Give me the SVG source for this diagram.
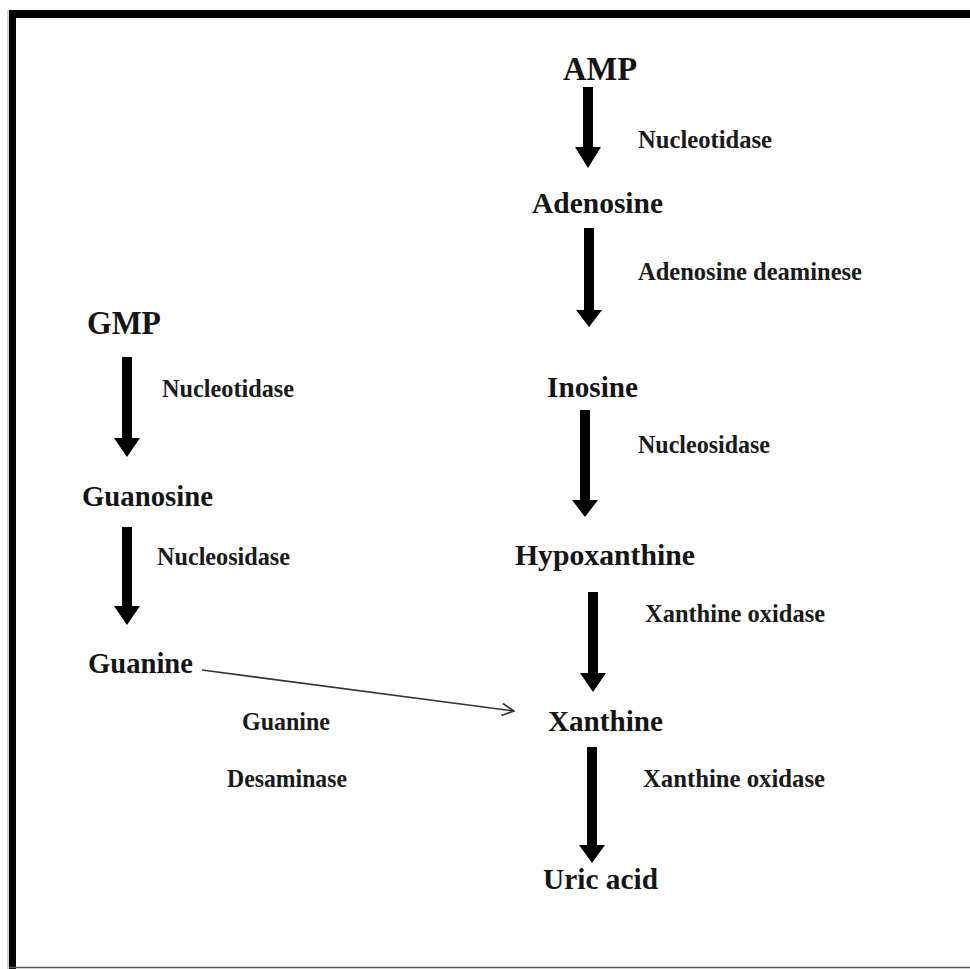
<svg xmlns="http://www.w3.org/2000/svg" width="970" height="969" viewBox="0 0 970 969">
<style>
.node{font-family:"Liberation Serif","Times New Roman",serif;font-weight:bold;font-size:30px;fill:#141414}
.big{font-size:34px}
.lbl{font-family:"Liberation Serif","Times New Roman",serif;font-weight:bold;font-size:26px;fill:#1a1a1a}
.blk{fill:#000}
.thin{stroke:#333;stroke-width:1.6;fill:none}
</style>
<defs>
<marker id="open" viewBox="0 0 14 14" refX="13" refY="7" markerWidth="14" markerHeight="14" markerUnits="userSpaceOnUse" orient="auto">
<path d="M1,1 L13,7 L1,13" fill="none" stroke="#333" stroke-width="1.6"/>
</marker>
</defs>
<rect width="970" height="969" fill="#fff"/>
<g id="frame">
<rect x="9" y="10" width="961" height="8" fill="#000"/>
<rect x="9" y="10" width="7" height="959" fill="#000"/>
<line x1="8" y1="10" x2="8" y2="969" stroke="#aaa" stroke-width="1"/>
<line x1="9" y1="967.5" x2="970" y2="967.5" stroke="#555" stroke-width="1.5"/>
</g>
<g id="connectors">
<polygon class="blk" points="583,87 593,87 593,147 601,147 588,168 575,147 583,147"/>
<polygon class="blk" points="584,228 594,228 594,310 602,310 589,327 576,310 584,310"/>
<polygon class="blk" points="580,410 590,410 590,500 598,500 585,517 572,500 580,500"/>
<polygon class="blk" points="588,592 598,592 598,673 606,673 593,692 580,673 588,673"/>
<polygon class="blk" points="587,747 597,747 597,845 605,845 592,863 579,845 587,845"/>
<polygon class="blk" points="122,357 132,357 132,438 140,438 127,457 114,438 122,438"/>
<polygon class="blk" points="122,527 132,527 132,606 140,606 127,625 114,606 122,606"/>
<line class="thin" x1="202" y1="670" x2="514" y2="711" marker-end="url(#open)"/>
<text class="lbl" x="638" y="148" textLength="134" lengthAdjust="spacingAndGlyphs">Nucleotidase</text>
<text class="lbl" x="638" y="280" textLength="224" lengthAdjust="spacingAndGlyphs">Adenosine deaminese</text>
<text class="lbl" x="638" y="453" textLength="132" lengthAdjust="spacingAndGlyphs">Nucleosidase</text>
<text class="lbl" x="645" y="622" textLength="180" lengthAdjust="spacingAndGlyphs">Xanthine oxidase</text>
<text class="lbl" x="643" y="787" textLength="182" lengthAdjust="spacingAndGlyphs">Xanthine oxidase</text>
<text class="lbl" x="162" y="397" textLength="132" lengthAdjust="spacingAndGlyphs">Nucleotidase</text>
<text class="lbl" x="157" y="565" textLength="133" lengthAdjust="spacingAndGlyphs">Nucleosidase</text>
<text class="lbl" x="242" y="730" textLength="88" lengthAdjust="spacingAndGlyphs">Guanine</text>
<text class="lbl" x="227" y="787" textLength="120" lengthAdjust="spacingAndGlyphs">Desaminase</text>
</g>
<g id="amp"><text class="node big" x="563" y="80" textLength="74" lengthAdjust="spacingAndGlyphs">AMP</text></g>
<g id="adenosine"><text class="node" x="532" y="213" textLength="131" lengthAdjust="spacingAndGlyphs">Adenosine</text></g>
<g id="inosine"><text class="node" x="547" y="397" textLength="91" lengthAdjust="spacingAndGlyphs">Inosine</text></g>
<g id="hypoxanthine"><text class="node" x="515" y="565" textLength="180" lengthAdjust="spacingAndGlyphs">Hypoxanthine</text></g>
<g id="xanthine"><text class="node" x="548" y="731" textLength="115" lengthAdjust="spacingAndGlyphs">Xanthine</text></g>
<g id="uric-acid"><text class="node" x="543" y="889" textLength="115" lengthAdjust="spacingAndGlyphs">Uric acid</text></g>
<g id="gmp"><text class="node big" x="87" y="334" textLength="74" lengthAdjust="spacingAndGlyphs">GMP</text></g>
<g id="guanosine"><text class="node" x="82" y="506" textLength="131" lengthAdjust="spacingAndGlyphs">Guanosine</text></g>
<g id="guanine"><text class="node" x="88" y="673" textLength="105" lengthAdjust="spacingAndGlyphs">Guanine</text></g>
</svg>
